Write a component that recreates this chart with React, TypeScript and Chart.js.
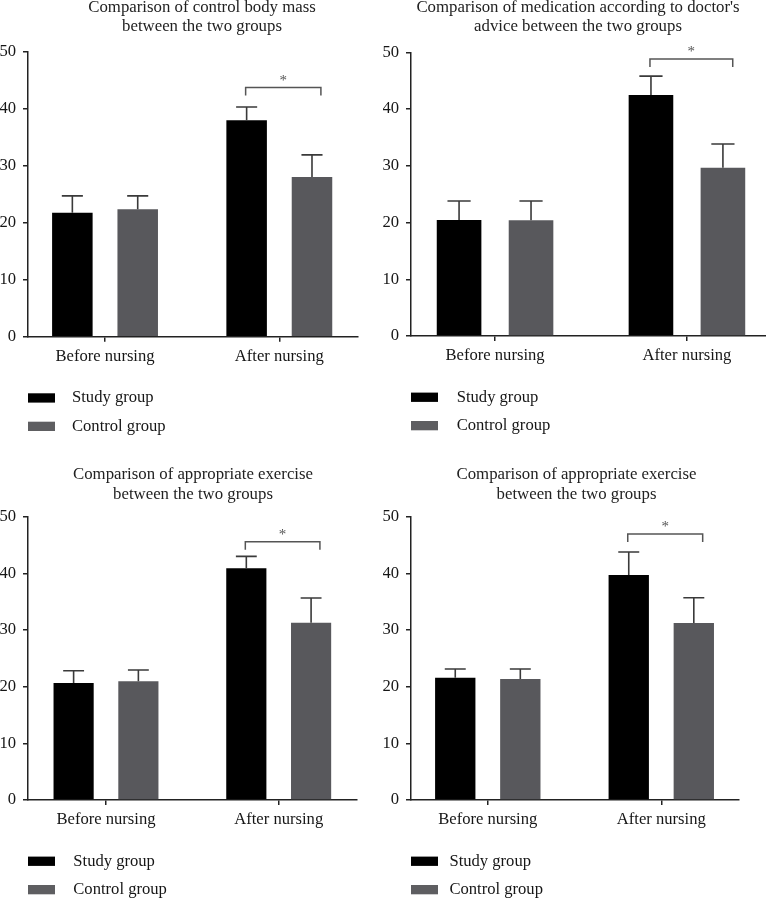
import React, { useEffect, useRef } from "react";
import { Chart, registerables } from "chart.js";

Chart.register(...registerables);

// ---------- data ----------
const categories = ["Before nursing", "After nursing"];
const seriesNames = ["Study group", "Control group"];
const yTicks = [0, 10, 20, 30, 40, 50];

const title1 = ["Comparison of control body mass", "between the two groups"];
const study1 = [21.75, 37.96];
const studyErr1 = [2.95, 2.34];
const control1 = [22.35, 28.0];
const controlErr1 = [2.35, 3.9];
const bracket1 = 43.7;

const title2 = ["Comparison of medication according to doctor's", "advice between the two groups"];
const study2 = [20.44, 42.47];
const studyErr2 = [3.36, 3.33];
const control2 = [20.39, 29.66];
const controlErr2 = [3.41, 4.18];
const bracket2 = 48.8;

const title3 = ["Comparison of appropriate exercise", "between the two groups"];
const study3 = [20.65, 40.88];
const studyErr3 = [2.15, 2.12];
const control3 = [20.94, 31.29];
const controlErr3 = [2.0, 4.36];
const bracket3 = 45.6;

const title4 = ["Comparison of appropriate exercise", "between the two groups"];
const study4 = [21.59, 39.7];
const studyErr4 = [1.53, 4.06];
const control4 = [21.35, 31.24];
const controlErr4 = [1.77, 4.46];
const bracket4 = 46.94;

// ---------- styles ----------
const FONT = "'Liberation Serif', 'Times New Roman', serif";
const STUDY_COLOR = "#000000";
const CONTROL_COLOR = "#58585c";
const LEGEND_CONTROL_COLOR = "#5e5e61";
const AXIS_COLOR = "#222222";
const TEXT_COLOR = "#161616";
const LABEL_SIZE = 16.6;
const TITLE_SIZE = 16.8;

type PanelLayout = {
  left: number;
  top: number;
  padTop: number;
  padRight: number;
  xHeight: number;
  xMin: number;
  xMax: number;
  titleX: number;
  titleY: number[];
  legendTextOffset: number;
};

type PanelProps = {
  title: string[];
  study: number[];
  studyErr: number[];
  control: number[];
  controlErr: number[];
  bracket: number;
  layout: PanelLayout;
};

const W = 383;
const H = 449;

function Panel({ title, study, studyErr, control, controlErr, bracket, layout }: PanelProps) {
  const ref = useRef<HTMLCanvasElement | null>(null);

  useEffect(() => {
    if (!ref.current) return;
    const errs = [studyErr, controlErr];

    const decorPlugin = {
      id: "decor",
      afterDatasetsDraw(chart: any) {
        const ctx = chart.ctx;
        const yScale = chart.scales.y;
        ctx.save();
        // error bars
        chart.data.datasets.forEach((ds: any, i: number) => {
          const meta = chart.getDatasetMeta(i);
          meta.data.forEach((bar: any, j: number) => {
            const v = ds.data[j].y;
            const top = yScale.getPixelForValue(v + errs[i][j]);
            const half = bar.width * 0.26;
            ctx.strokeStyle = "#3a3a3a";
            ctx.lineWidth = 1.6;
            ctx.beginPath();
            ctx.moveTo(bar.x, bar.y);
            ctx.lineTo(bar.x, top);
            ctx.moveTo(bar.x - half, top);
            ctx.lineTo(bar.x + half, top);
            ctx.stroke();
          });
        });
        // significance bracket between the two "After nursing" bars
        const a = chart.getDatasetMeta(0).data[1] as any;
        const b = chart.getDatasetMeta(1).data[1] as any;
        const by = yScale.getPixelForValue(bracket);
        const x1 = a.x - 1;
        const x2 = b.x + b.width * 0.22;
        ctx.strokeStyle = "#555555";
        ctx.lineWidth = 1.5;
        ctx.beginPath();
        ctx.moveTo(x1, by + 8);
        ctx.lineTo(x1, by);
        ctx.lineTo(x2, by);
        ctx.lineTo(x2, by + 8);
        ctx.stroke();
        ctx.fillStyle = "#555555";
        ctx.font = `15px ${FONT}`;
        ctx.textAlign = "center";
        ctx.textBaseline = "alphabetic";
        ctx.fillText("*", (x1 + x2) / 2, by - 3);
        ctx.restore();
      },
      afterDraw(chart: any) {
        const ctx = chart.ctx;
        const area = chart.chartArea;
        ctx.save();
        // title
        ctx.fillStyle = "#222222";
        ctx.font = `${TITLE_SIZE}px ${FONT}`;
        ctx.textAlign = "center";
        ctx.textBaseline = "middle";
        title.forEach((line, i) => ctx.fillText(line, layout.titleX, layout.titleY[i]));
        // legend
        const colors = [STUDY_COLOR, LEGEND_CONTROL_COLOR];
        chart.data.datasets.forEach((ds: any, i: number) => {
          const y = area.bottom + 56.6 + i * 28.4;
          ctx.fillStyle = colors[i];
          ctx.fillRect(area.left, y, 27, 9.3);
          ctx.fillStyle = TEXT_COLOR;
          ctx.font = `${LABEL_SIZE}px ${FONT}`;
          ctx.textAlign = "left";
          ctx.textBaseline = "middle";
          ctx.fillText(ds.label, area.left + layout.legendTextOffset, y + 4.6);
        });
        ctx.restore();
      },
    };

    const chart = new Chart(ref.current, {
      type: "bar",
      data: {
        datasets: [
          {
            label: seriesNames[0],
            data: categories.map((_, i) => ({ x: i + 1, y: study[i] })),
            backgroundColor: STUDY_COLOR,
            borderWidth: 0,
            categoryPercentage: 0.75,
            barPercentage: 0.62,
          },
          {
            label: seriesNames[1],
            data: categories.map((_, i) => ({ x: i + 1, y: control[i] })),
            backgroundColor: CONTROL_COLOR,
            borderWidth: 0,
            categoryPercentage: 0.75,
            barPercentage: 0.62,
          },
        ],
      } as any,
      options: {
        animation: false,
        responsive: false,
        maintainAspectRatio: false,
        devicePixelRatio: 1,
        layout: { padding: { top: layout.padTop, right: layout.padRight, left: 0, bottom: 0 } },
        plugins: {
          legend: { display: false },
          title: { display: false },
          tooltip: { enabled: false },
        },
        scales: {
          x: {
            type: "linear",
            min: layout.xMin,
            max: layout.xMax,
            offset: false,
            afterBuildTicks: (s: any) => {
              s.ticks = categories.map((_, i) => ({ value: i + 1 }));
            },
            afterFit: (s: any) => {
              s.height = layout.xHeight;
            },
            ticks: {
              callback: (v: any) => categories[Math.round(Number(v)) - 1] ?? "",
              color: TEXT_COLOR,
              font: { family: FONT, size: LABEL_SIZE },
              padding: 5,
              maxRotation: 0,
              autoSkip: false,
            },
            grid: {
              drawOnChartArea: false,
              drawTicks: true,
              tickLength: 5,
              offset: false,
              color: AXIS_COLOR,
              lineWidth: 1.5,
            },
            border: { display: true, color: AXIS_COLOR, width: 1.5 },
          },
          y: {
            min: 0,
            max: 50,
            afterBuildTicks: (s: any) => {
              s.ticks = yTicks.map((v) => ({ value: v }));
            },
            afterFit: (s: any) => {
              s.width = 28;
            },
            ticks: {
              color: TEXT_COLOR,
              font: { family: FONT, size: LABEL_SIZE },
              padding: 7,
            },
            grid: {
              drawOnChartArea: false,
              drawTicks: true,
              tickLength: 5,
              color: AXIS_COLOR,
              lineWidth: 1.5,
            },
            border: { display: true, color: AXIS_COLOR, width: 1.5 },
          },
        },
      } as any,
      plugins: [decorPlugin],
    });

    return () => chart.destroy();
  }, []);

  return (
    <canvas
      ref={ref}
      width={W}
      height={H}
      style={{ position: "absolute", left: layout.left, top: layout.top, width: W, height: H }}
    />
  );
}

const layouts: PanelLayout[] = [
  { left: 0, top: 0, padTop: 51.7, padRight: 25, xHeight: 112.3, xMin: 0.558, xMax: 2.4515, titleX: 202, titleY: [7.3, 26.7], legendTextOffset: 44 },
  { left: 383, top: 0, padTop: 52.3, padRight: 0, xHeight: 113, xMin: 0.562, xMax: 2.412, titleX: 195, titleY: [7.3, 26.7], legendTextOffset: 45.7 },
  { left: 0, top: 449, padTop: 67.7, padRight: 26.3, xHeight: 98, xMin: 0.5484, xMax: 2.4516, titleX: 193, titleY: [26, 45.7], legendTextOffset: 45.3 },
  { left: 383, top: 449, padTop: 67.7, padRight: 27, xHeight: 98, xMin: 0.5574, xMax: 2.448, titleX: 193.5, titleY: [26, 45.7], legendTextOffset: 38.4 },
];

export default function App() {
  return (
    <div style={{ position: "absolute", left: 0, top: 0, width: 766, height: 898, background: "#ffffff", overflow: "hidden" }}>
      <Panel title={title1} study={study1} studyErr={studyErr1} control={control1} controlErr={controlErr1} bracket={bracket1} layout={layouts[0]} />
      <Panel title={title2} study={study2} studyErr={studyErr2} control={control2} controlErr={controlErr2} bracket={bracket2} layout={layouts[1]} />
      <Panel title={title3} study={study3} studyErr={studyErr3} control={control3} controlErr={controlErr3} bracket={bracket3} layout={layouts[2]} />
      <Panel title={title4} study={study4} studyErr={studyErr4} control={control4} controlErr={controlErr4} bracket={bracket4} layout={layouts[3]} />
    </div>
  );
}
